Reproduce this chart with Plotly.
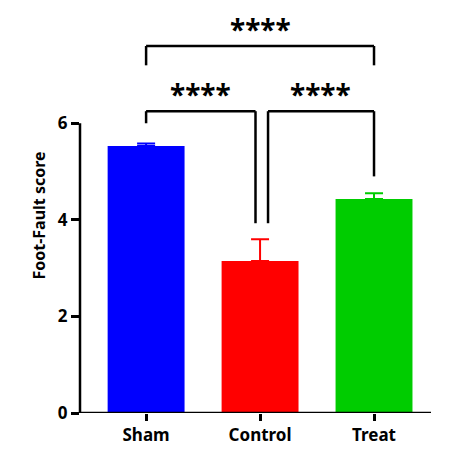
import plotly.graph_objects as go

groups = ["Sham", "Control", "Treat"]
means = [5.53, 3.15, 4.43]
errs = [0.05, 0.45, 0.12]
colors = ["#0000FF", "#FF0000", "#00CC00"]
yticks = [0, 2, 4, 6]

fig = go.Figure()
for i in range(3):
    fig.add_trace(go.Bar(x=[i], y=[means[i]], marker=dict(color=colors[i], line=dict(width=0)),
                         error_y=dict(type="data", array=[errs[i]], arrayminus=[0], symmetric=False,
                                      thickness=2, width=9, color=colors[i]), width=0.675))

ln = dict(color="black", width=2.5)
def seg(x0, y0, x1, y1, xref="x"):
    fig.add_shape(type="line", x0=x0, y0=y0, x1=x1, y1=y1, xref=xref, yref="y", line=ln)

seg(0, 0, 0, 6, xref="paper")
seg(-0.58, 0, 2.5, 0)
# top bracket
seg(0, 7.2, 0, 7.6); seg(0, 7.6, 2, 7.6); seg(2, 7.6, 2, 7.2)
# left bracket
seg(0, 6.0, 0, 6.25); seg(0, 6.25, 0.96, 6.25); seg(0.96, 6.25, 0.96, 3.93)
# right bracket
seg(1.07, 3.93, 1.07, 6.25); seg(1.07, 6.25, 2, 6.25); seg(2, 6.25, 2, 4.9)

for x, y in [(1, 7.95), (0.48, 6.6), (1.53, 6.6)]:
    fig.add_annotation(x=x, y=y, text="<b>****</b>", showarrow=False,
                       font=dict(size=28, color="black"), yanchor="middle")

fig.update_layout(
    width=450, height=454, showlegend=False, plot_bgcolor="white", paper_bgcolor="white",
    margin=dict(l=72, r=27, t=10, b=49),
    font=dict(family="Noto Sans", color="black"),
    xaxis=dict(range=[-0.58, 2.5], tickvals=[0, 1, 2], ticktext=[f"<b>{g}</b>" for g in groups],
               ticks="outside", ticklen=7, tickwidth=2.5, tickcolor="black", showline=False,
               showgrid=False, zeroline=False, tickfont=dict(size=17)),
    yaxis=dict(range=[0, 8.18], tickvals=yticks, ticktext=[f"<b>{t}</b>" for t in yticks],
               ticks="outside", ticklen=8, tickwidth=2.5, tickcolor="black", showline=False,
               showgrid=False, zeroline=False, tickfont=dict(size=17),
               title=dict(text="<b>Foot-Fault score</b>", font=dict(size=16), standoff=8)),
)
fig.write_html("out.html")
